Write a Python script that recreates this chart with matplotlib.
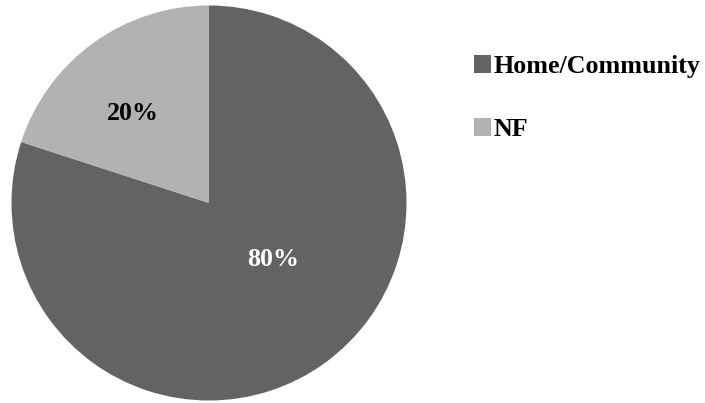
import matplotlib
matplotlib.use("Agg")
import matplotlib.pyplot as plt

categories = ["Home/Community", "NF"]
shares = [80, 20]
colors = ["#636363", "#b2b2b2"]
label_colors = ["white", "black"]
# label anchor points in pie-radius units
label_xy = [(0.323, -0.288), (-0.385, 0.455)]

W, H = 705, 403
fig = plt.figure(figsize=(W / 100, H / 100), dpi=100)
fig.patch.set_facecolor("white")

cx, cy, r = 209, 203, 197.5
ax = fig.add_axes([(cx - r) / W, (H - cy - r) / H, 2 * r / W, 2 * r / H])

font = dict(family="Liberation Serif", weight="bold", size=18.7)

wedges, texts, autotexts = ax.pie(
    shares,
    colors=colors,
    startangle=90,
    counterclock=False,
    radius=1.0,
    autopct=lambda p: f"{p:.0f}%",
    wedgeprops=dict(linewidth=0),
    textprops=font,
)
for t, c, xy in zip(autotexts, label_colors, label_xy):
    t.set_color(c)
    t.set_position(xy)
ax.set_xlim(-1, 1)
ax.set_ylim(-1, 1)
ax.set_aspect("equal")
ax.axis("off")

fig.legend(
    wedges,
    categories,
    loc="upper left",
    bbox_to_anchor=(474 / W, 1 - 55 / H),
    frameon=False,
    prop=dict(family="Liberation Serif", weight="bold", size=18.7),
    handlelength=0.66,
    handleheight=0.66,
    handletextpad=0.1,
    labelspacing=1.55,
    borderpad=0,
    borderaxespad=0,
)

fig.savefig("out.png", dpi=100, facecolor="white")
